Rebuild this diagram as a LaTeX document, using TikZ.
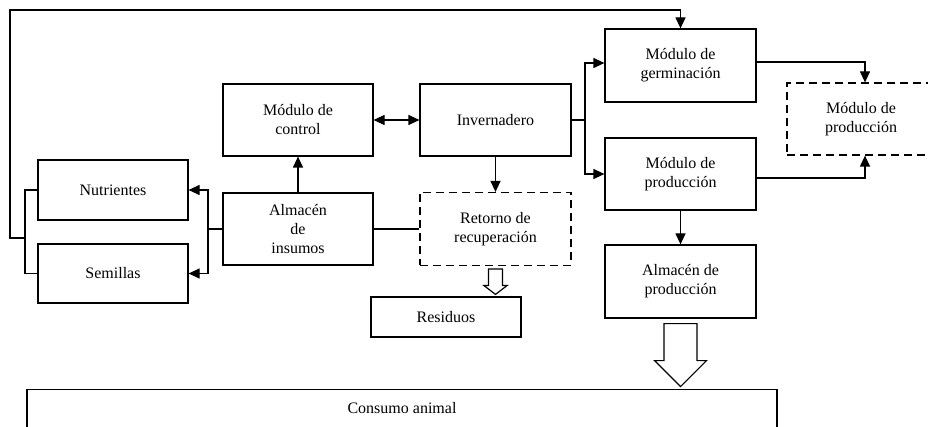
\documentclass[tikz,border=0pt]{standalone}
\usepackage{fontspec}
\setmainfont{Liberation Serif}
\usetikzlibrary{arrows.meta,calc}
\begin{document}
\begin{tikzpicture}[x=1pt,y=-1pt,
  every node/.style={font=\fontsize{16}{19}\selectfont},
  box/.style={draw,line width=1.2pt,rectangle,align=center,inner sep=0pt},
  dbox/.style={box,dash pattern=on 8pt off 5pt},
  conn/.style={line width=1.2pt},
  arr/.style={conn,-{Triangle[length=11pt,width=10pt]}},
  barr/.style={conn,{Triangle[length=11pt,width=10pt]}-{Triangle[length=11pt,width=10pt]}},
  hollow/.style={draw,line width=1.2pt,fill=white,line join=miter}]
\useasboundingbox (0,0) rectangle (928,427);
\clip (0,0) rectangle (928,427);
% nodes
\node[box,minimum width=150pt,minimum height=60pt] (nut) at (113,190) {Nutrientes};
\node[box,minimum width=150pt,minimum height=59pt] (sem) at (113,273.5) {Semillas};
\node[box,minimum width=150pt,minimum height=72pt] (ctrl) at (298,120) {Módulo de\\control};
\node[box,minimum width=150pt,minimum height=72pt] (alm) at (298,229) {Almacén\\de\\insumos};
\node[box,minimum width=151pt,minimum height=72pt] (inv) at (495.5,120) {Invernadero};
\node[dbox,minimum width=151pt,minimum height=73pt] (ret) at (495.5,229) {Retorno de\\recuperación};
\node[box,minimum width=150pt,minimum height=40pt] (res) at (446,317) {Residuos};
\node[box,minimum width=151pt,minimum height=73pt] (ger) at (680.5,65.5) {Módulo de\\germinación};
\node[box,minimum width=151pt,minimum height=72pt] (prod) at (680.5,174) {Módulo de\\producción};
\node[box,minimum width=151pt,minimum height=73pt] (almp) at (680.5,281.5) {Almacén de\\producción};
\node[dbox,minimum width=148pt,minimum height=72pt] (dprod) at (861,119) {Módulo de\\producción};
\node[box,minimum width=750pt,minimum height=60pt,anchor=north] (cons) at (402,389) {};
\node (constext) at (402,408) {Consumo animal};
% coordinates
\coordinate (lbus) at (25,238);
\coordinate (mbus) at (208,229);
\coordinate (rbus) at (585,120);
% feedback loop
\draw[conn] (nut.west) -| (lbus) |- (sem.west);
\draw[arr] (lbus) -- (10,238) -- (10,10) -| (ger.north);
% almacen de insumos
\draw[conn] (alm.west) -- (mbus);
\draw[arr] (mbus) |- (nut.east);
\draw[arr] (mbus) |- (sem.east);
\draw[arr] (alm.north) -- (ctrl.south);
\draw[barr] (ctrl.east) -- (inv.west);
\draw[arr] (inv.south) -- (ret.north);
\draw[conn] (alm.east) -- (ret.west);
% invernadero to modules
\draw[conn] (inv.east) -- (rbus);
\draw[arr] (rbus) |- ($(ger.west)+(0,-2.5)$);
\draw[arr] (rbus) |- (prod.west);
\draw[arr] ($(ger.east)+(0,-3.5)$) -| ($(dprod.north)+(4,0)$);
\draw[arr] ($(prod.east)+(0,4)$) -| ($(dprod.south)+(4,0)$);
\draw[arr] (prod.south) -- (almp.north);
% hollow arrows
\draw[hollow] ($(ret.south)+(-7,3)$) -- ($(ret.south)+(7,3)$) -- ($(ret.south)+(7,19.5)$)
  -- ($(ret.south)+(11.5,19.5)$) -- ($(res.north)+(49.5,-2)$) -- ($(ret.south)+(-11.5,19.5)$)
  -- ($(ret.south)+(-7,19.5)$) -- cycle;
\draw[hollow] ($(almp.south)+(-16.5,5)$) -- ($(almp.south)+(16.5,5)$) -- ($(almp.south)+(16.5,42)$)
  -- ($(almp.south)+(26,42)$) -- ($(almp.south)+(0,68)$) -- ($(almp.south)+(-26,42)$)
  -- ($(almp.south)+(-16.5,42)$) -- cycle;
\end{tikzpicture}
\end{document}
